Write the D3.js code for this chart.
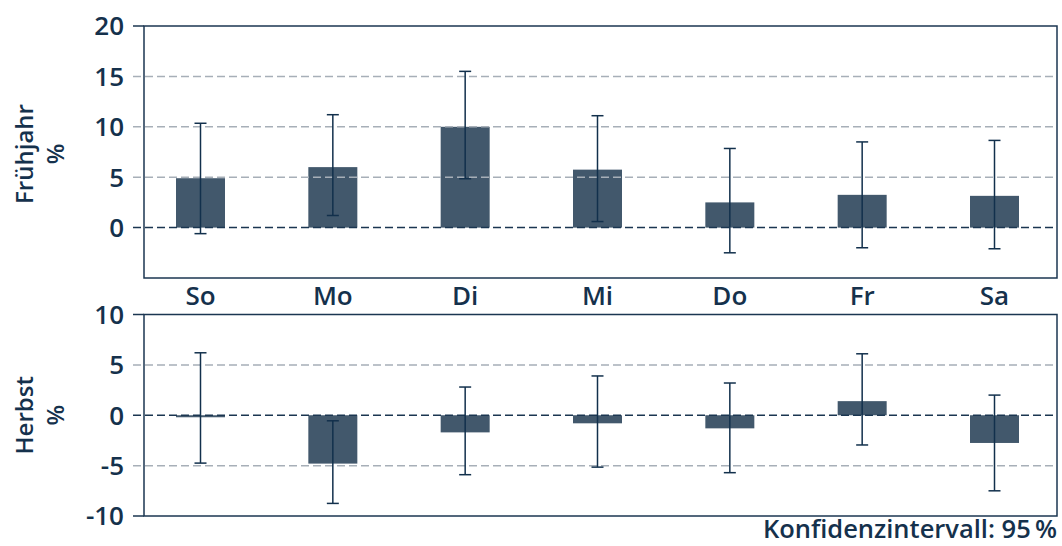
<!DOCTYPE html>
<html>
<head>
<meta charset="utf-8">
<script src="https://cdn.jsdelivr.net/npm/d3@7"></script>
<style>
  body { margin: 0; background: #fff; }
  svg text { font-family: "Open Sans", sans-serif; fill: #15314c; }
</style>
</head>
<body>
<div id="chart"></div>
<script>
// weekdays and values (percent)
const days = ["So", "Mo", "Di", "Mi", "Do", "Fr", "Sa"];

const springValues = [4.9, 6.0, 10.0, 5.75, 2.5, 3.25, 3.15];
const springLow = [-0.6, 1.2, 4.85, 0.6, -2.5, -2.0, -2.1];
const springHigh = [10.35, 11.2, 15.5, 11.1, 7.85, 8.5, 8.65];

const autumnValues = [-0.2, -4.8, -1.7, -0.8, -1.3, 1.4, -2.75];
const autumnLow = [-4.75, -8.75, -5.9, -5.15, -5.7, -2.95, -7.5];
const autumnHigh = [6.2, -0.55, 2.8, 3.9, 3.2, 6.1, 2.0];

const springTicks = [0, 5, 10, 15, 20];
const autumnTicks = [-10, -5, 0, 5, 10];

const note = "Konfidenzintervall: 95\u2009%";

const width = 1062, height = 546;
const left = 144, right = 1057;
const dark = "#1b3651", barColor = "#42586c", gridColor = "#a7afb8", errColor = "#12304c";

let svg = d3.select("#chart")
    .append("svg")
    .attr("width", width)
    .attr("height", height);

// category positions (shared by both panels)
let x = d3.scalePoint()
    .domain(days)
    .range([200.5, 994.5]);
const barW = 49;

function drawPanel(opts) {
    let y = d3.scaleLinear()
        .domain(opts.domain)
        .range([opts.bottom, opts.top]);
    let g = svg.append("g");

    let rows = days.map((d, i) => ({
        day: d, v: opts.values[i], lo: opts.low[i], hi: opts.high[i]
    }));

    // bars
    g.selectAll(".bar")
        .data(rows)
        .join("rect")
        .attr("x", d => x(d.day) - barW / 2)
        .attr("width", barW)
        .attr("y", d => y(Math.max(0, d.v)))
        .attr("height", d => Math.abs(y(d.v) - y(0)))
        .attr("fill", barColor);

    // grid lines (dashed) over the bars
    let inner = opts.ticks.filter(t => t !== opts.domain[0] && t !== opts.domain[1]);
    g.selectAll(".grid")
        .data(inner)
        .join("line")
        .attr("x1", left - 11)
        .attr("x2", right)
        .attr("y1", d => y(d))
        .attr("y2", d => y(d))
        .attr("stroke", d => d === 0 ? dark : gridColor)
        .attr("stroke-width", 1.5)
        .attr("stroke-dasharray", "8,4");

    // solid ticks on the frame edges
    let edges = opts.ticks.filter(t => t === opts.domain[0] || t === opts.domain[1]);
    g.selectAll(".edgetick")
        .data(edges)
        .join("line")
        .attr("x1", left - 11)
        .attr("x2", left)
        .attr("y1", d => y(d))
        .attr("y2", d => y(d))
        .attr("stroke", dark)
        .attr("stroke-width", 1.5);

    // frame
    g.append("rect")
        .attr("x", left)
        .attr("y", opts.top)
        .attr("width", right - left)
        .attr("height", opts.bottom - opts.top)
        .attr("fill", "none")
        .attr("stroke", dark)
        .attr("stroke-width", 1.5);

    // error bars
    let err = g.selectAll(".err")
        .data(rows)
        .join("g");
    err.append("line")
        .attr("x1", d => x(d.day)).attr("x2", d => x(d.day))
        .attr("y1", d => y(d.lo)).attr("y2", d => y(d.hi));
    err.append("line")
        .attr("x1", d => x(d.day) - 6).attr("x2", d => x(d.day) + 6)
        .attr("y1", d => y(d.hi)).attr("y2", d => y(d.hi));
    err.append("line")
        .attr("x1", d => x(d.day) - 6).attr("x2", d => x(d.day) + 6)
        .attr("y1", d => y(d.lo)).attr("y2", d => y(d.lo));
    err.selectAll("line")
        .attr("stroke", errColor)
        .attr("stroke-width", 1.5);

    // tick labels
    g.selectAll(".ticklabel")
        .data(opts.ticks)
        .join("text")
        .attr("x", left - 20)
        .attr("y", d => y(d))
        .attr("dy", "0.36em")
        .attr("text-anchor", "end")
        .style("font-size", "26px")
        .style("font-weight", 600)
        .text(d => d);

    // axis title, two lines, rotated
    let cy = (opts.top + opts.bottom) / 2 + opts.titleShift;
    let t = g.append("text")
        .attr("transform", "translate(" + 33 + "," + cy + ") rotate(-90)")
        .attr("text-anchor", "middle")
        .style("font-size", "24px")
        .style("font-weight", 600);
    t.append("tspan").attr("x", 0).attr("y", 0).text(opts.title);
    t.append("tspan").attr("x", 0).attr("y", 31).text("%");
}

drawPanel({
    title: "Frühjahr", domain: [-5, 20], ticks: springTicks,
    top: 26, bottom: 278, titleShift: 2,
    values: springValues, low: springLow, high: springHigh
});

drawPanel({
    title: "Herbst", domain: [-10, 10], ticks: autumnTicks,
    top: 314.5, bottom: 516, titleShift: 0,
    values: autumnValues, low: autumnLow, high: autumnHigh
});

// weekday labels between the panels
svg.selectAll(".daylabel")
    .data(days)
    .join("text")
    .attr("x", d => x(d))
    .attr("y", 305)
    .attr("text-anchor", "middle")
    .style("font-size", "26px")
    .style("font-weight", 600)
    .text(d => d);

// note bottom right
svg.append("text")
    .attr("x", right)
    .attr("y", 538)
    .attr("text-anchor", "end")
    .style("font-size", "25.5px")
    .style("font-weight", 600)
    .text(note);
</script>
</body>
</html>
